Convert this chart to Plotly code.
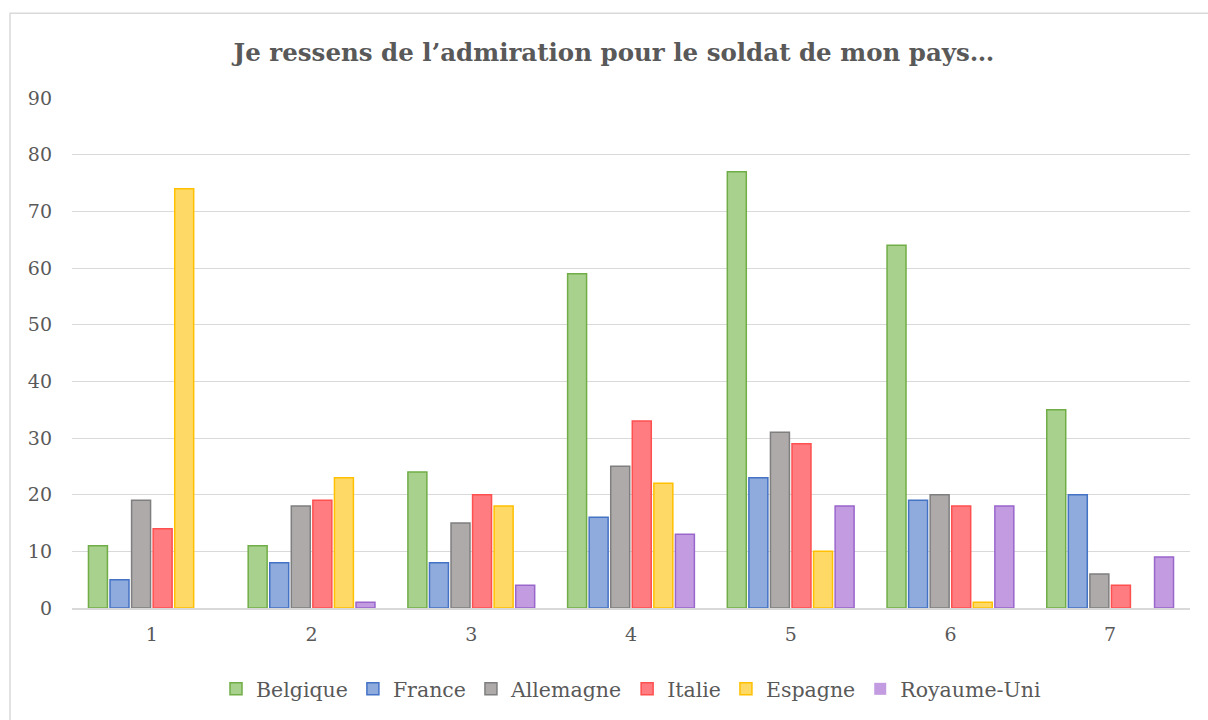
import plotly.graph_objects as go

categories = ["1", "2", "3", "4", "5", "6", "7"]
belgique = [11, 11, 24, 59, 77, 64, 35]
france = [5, 8, 8, 16, 23, 19, 20]
allemagne = [19, 18, 15, 25, 31, 20, 6]
italie = [14, 19, 20, 33, 29, 18, 4]
espagne = [74, 23, 18, 22, 10, 1, 0]
royaume_uni = [0, 1, 4, 13, 18, 18, 9]

series = [
    ("Belgique", belgique, "#A9D18E", "#70AD47"),
    ("France", france, "#8FAADC", "#4472C4"),
    ("Allemagne", allemagne, "#AEAAAA", "#7F7F7F"),
    ("Italie", italie, "#FF7C80", "#FF5050"),
    ("Espagne", espagne, "#FFD966", "#FFC000"),
    ("Royaume-Uni", royaume_uni, "#C39BE0", "#9966CC"),
]

FONT = "DejaVu Serif"
fig = go.Figure()
for name, vals, fill, line in series:
    fig.add_trace(go.Bar(
        x=categories, y=vals, name=name,
        marker=dict(color=fill,
                    line=dict(color=line, width=[1.5 if v > 0 else 0 for v in vals])),
    ))

W, H = 1208, 720
ml, mr, mt, mb = 72, 18, 98, 111
pw, ph = W - ml - mr, H - mt - mb

def px2x(px):
    return (px - ml) / pw

def py2y(py):
    return (H - mb - py) / ph

fig.update_layout(
    width=W, height=H,
    margin=dict(l=ml, r=mr, t=mt, b=mb),
    paper_bgcolor="white", plot_bgcolor="white",
    barmode="group", bargap=0.19, bargroupgap=0.12,
    title=dict(text="<b>Je ressens de l’admiration pour le soldat de mon pays…</b>",
               xref="container", x=614 / W, xanchor="center", y=1 - 52 / H, yanchor="middle",
               font=dict(family=FONT, size=24.5, color="#595959")),
    font=dict(family=FONT, size=19, color="#595959"),
    legend=dict(orientation="h", x=0.5, xanchor="center", y=py2y(689), yanchor="middle",
                font=dict(family=FONT, size=20.5, color="#595959"),
                itemwidth=30, traceorder="normal"),
    xaxis=dict(showgrid=False, showline=True, linecolor="#D9D9D9", linewidth=1.5,
               ticks="", ticklabelstandoff=8, tickfont=dict(size=19, color="#595959")),
    yaxis=dict(range=[0, 90], dtick=10, showgrid=True, gridcolor="#D9D9D9", gridwidth=1.2,
               zeroline=False, showline=False, ticks="", ticklabelstandoff=19,
               tickfont=dict(size=19, color="#595959")),
    shapes=[dict(type="rect", xref="paper", yref="paper",
                 x0=px2x(10), x1=px2x(1215), y0=py2y(725), y1=py2y(13),
                 line=dict(color="#D9D9D9", width=1.5), fillcolor="rgba(0,0,0,0)")],
)

fig.write_html("out.html", config={"displayModeBar": False},
               post_script="document.body.style.margin='0px';")
